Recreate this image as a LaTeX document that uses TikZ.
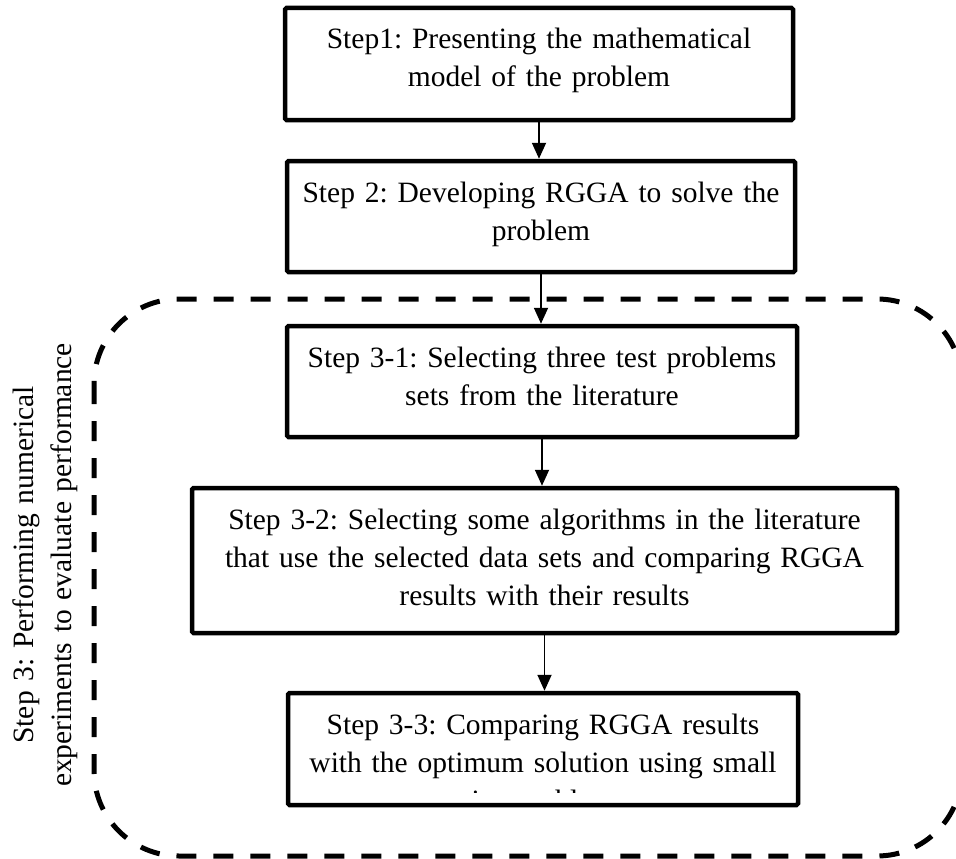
\documentclass[tikz,border=0pt]{standalone}
\usepackage{fontspec}
\setmainfont{Liberation Serif}
\usetikzlibrary{arrows.meta}
\frenchspacing
\begin{document}
\begin{tikzpicture}[x=1pt,y=-1pt,
  stepbox/.style={draw=black, line width=4.5pt, rounded corners=1.5pt, inner sep=0pt, fill=white},
  steptext/.style={text width=#1, align=center, inner sep=0pt, anchor=base, font=\fontsize{29.5}{38}\selectfont},
  flowarrow/.style={line width=1.8pt, -{Triangle[width=14pt,length=16pt]}},
  groupframe/.style={line width=5pt, dash pattern=on 20pt off 17pt, rounded corners=85pt}]
\clip (0,0) rectangle (956,859);
\fill[white] (0,0) rectangle (956,859);

% dashed group frame (right side runs past the picture edge)
\draw[groupframe] (94,299) rectangle (962,856);

% boxes
\node[stepbox, minimum width=508pt, minimum height=112pt] (b1) at (539,64) {};
\node[stepbox, minimum width=508pt, minimum height=111pt] (b2) at (541,216.5) {};
\node[stepbox, minimum width=510pt, minimum height=111pt] (b3) at (542,381.5) {};
\node[stepbox, minimum width=705pt, minimum height=145pt] (b4) at (544.5,560.5) {};
\node[stepbox, minimum width=510pt, minimum height=112pt] (b5) at (543,749) {};

% texts
\node[steptext=500pt] (t1) at (539,49) {Step1: Presenting the mathematical\\model of the problem};
\node[steptext=500pt] (t2) at (541,202) {Step 2: Developing RGGA to solve the\\problem};
\node[steptext=500pt] (t3) at (542,367) {Step 3-1: Selecting three test problems\\sets from the literature};
\node[steptext=690pt] (t4) at (544.5,529) {Step 3-2: Selecting some algorithms in the literature\\that use the selected data sets and comparing RGGA\\results with their results};
\begin{scope}
\clip (290,696) rectangle (796,792);
\node[steptext=500pt] (t5) at (543,734) {Step 3-3: Comparing RGGA results\\with the optimum solution using small\\size problems};
\end{scope}

% side label
\node[steptext=480pt, rotate=90] (side) at (33,565) {Step 3: Performing numerical\\experiments to evaluate performance};

% arrows
\draw[flowarrow] (b1.south) -- (b1.south |- b2.north);
\draw[flowarrow] (b2.south) -- (b2.south |- b3.north);
\draw[flowarrow] (b3.south) -- (b3.south |- b4.north);
\draw[flowarrow] (b4.south) -- (b4.south |- b5.north);
\end{tikzpicture}
\end{document}
